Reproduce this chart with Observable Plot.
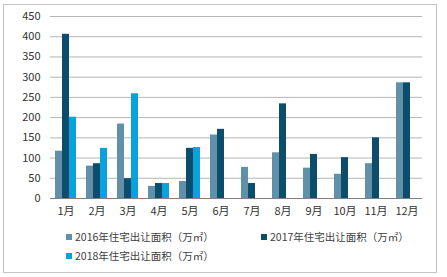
<!DOCTYPE html>
<html><head><meta charset="utf-8">
<script src="https://cdn.jsdelivr.net/npm/d3@7"></script>
<script src="https://cdn.jsdelivr.net/npm/@observablehq/plot@0.6"></script>
<style>
body{margin:0;background:#fff;font-family:"Noto Sans CJK SC","Noto Sans",sans-serif;}
#frame{position:absolute;left:3px;top:4px;width:434px;height:269px;border:1px solid #c4c4c4;box-sizing:border-box;background:#fff;}
#chart{position:absolute;left:0;top:0;}
.lg{position:absolute;font-size:10.5px;color:#404040;white-space:nowrap;line-height:14px;}
.sw{display:inline-block;width:6px;height:6px;margin-right:3px;vertical-align:1px;}
</style>
</head><body>
<div id="frame"><div id="chart"></div><div id="legend"></div></div>
<script>
const months = ["1月","2月","3月","4月","5月","6月","7月","8月","9月","10月","11月","12月"];
const seriesNames = ["2016年住宅出让面积（万㎡）","2017年住宅出让面积（万㎡）","2018年住宅出让面积（万㎡）"];
const s2016 = [117, 80, 184, 30, 42, 157, 77, 113, 75, 60, 86, 286];
const s2017 = [406, 86, 49, 37, 124, 171, 37, 234, 109, 101, 150, 286];
const s2018 = [201, 124, 259, 37, 126, null, null, null, null, null, null, null];
const yTicks = [0, 50, 100, 150, 200, 250, 300, 350, 400, 450];
const colors = ["#6190a8", "#0b4d6b", "#0aa2dc"];

const allSeries = [s2016, s2017, s2018];
const data = months.flatMap((m, i) => allSeries.map((s, j) => ({month: m, series: seriesNames[j], value: s[i]})))
  .filter(d => d.value != null);

const chart = Plot.plot({
  width: 432, height: 217,
  marginLeft: 41, marginRight: 10, marginTop: 11, marginBottom: 24,
  style: {fontSize: "11px", fontFamily: '"Noto Sans CJK SC","Noto Sans",sans-serif', color: "#333", background: "transparent"},
  fx: {domain: months, padding: 0, label: null, tickSize: 0, tickPadding: 9, axis: "bottom"},
  x: {domain: seriesNames, paddingInner: 0, paddingOuter: 0.58, axis: null},
  y: {domain: [0, 450], ticks: yTicks, label: null, tickSize: 0, tickPadding: 10},
  color: {domain: seriesNames, range: colors},
  marks: [
    Plot.ruleY(yTicks.slice(1), {stroke: "#b5b5b5", strokeWidth: 1}),
    Plot.barY(data, {fx: "month", x: "series", y: "value", fill: "series"}),
    Plot.ruleY([0], {stroke: "#808080", strokeWidth: 1})
  ]
});
document.getElementById("chart").appendChild(chart);

const legend = document.getElementById("legend");
const pos = [[62, 225], [257, 225], [62, 244]];
seriesNames.forEach((n, i) => {
  const d = document.createElement("div");
  d.className = "lg";
  d.style.left = pos[i][0] + "px";
  d.style.top = pos[i][1] + "px";
  d.innerHTML = `<span class="sw" style="background:${colors[i]}"></span>${n}`;
  legend.appendChild(d);
});
</script>
</body></html>
